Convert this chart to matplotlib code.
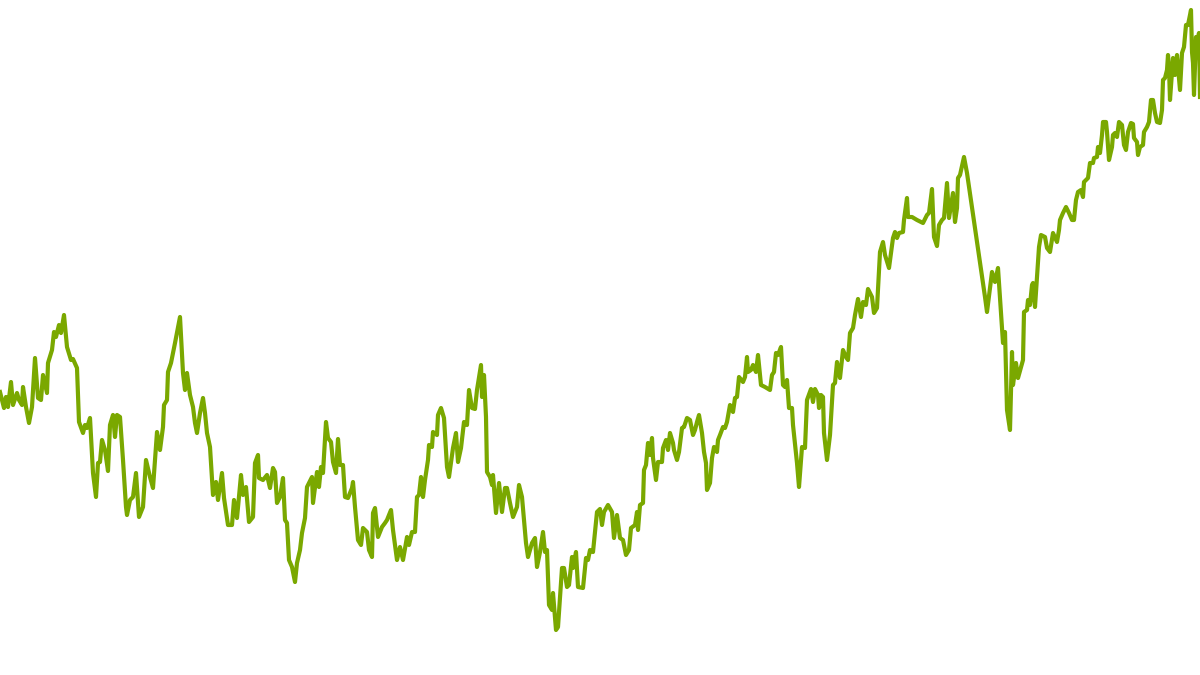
import matplotlib
matplotlib.use("Agg")
import matplotlib.pyplot as plt

# (dia, nivel), por tramos
tramo1 = [(0, 283), (4, 267), (6, 278), (8, 268), (11, 293), (13, 270), (17, 282), (19, 275),
          (22, 270), (23, 288), (26, 268), (29, 252), (32, 268), (35, 317), (38, 277), (41, 275),
          (43, 300), (47, 282), (48, 312), (52, 325), (54, 343), (56, 338), (59, 350), (61, 342),
          (64, 360), (67, 328), (71, 315), (73, 316), (77, 307), (79, 253), (83, 242), (85, 250),
          (87, 247), (90, 257), (93, 202), (96, 178), (98, 212), (100, 213), (102, 235), (105, 225),
          (108, 204), (110, 250), (113, 260), (115, 238), (117, 260), (120, 258), (123, 215),
          (126, 168), (127, 160), (130, 175), (133, 178), (136, 202), (139, 158), (143, 168),
          (146, 215), (150, 198), (153, 187), (157, 243), (160, 225), (163, 248), (164, 270),
          (167, 275), (168, 303), (171, 312), (173, 322), (175, 332), (180, 358), (183, 302),
          (185, 285), (187, 302), (190, 280), (193, 268), (195, 252), (197, 242)]
tramo2 = [(200, 262), (203, 277), (205, 262), (207, 242), (210, 228), (213, 180), (216, 193),
          (218, 175), (222, 202), (224, 177), (228, 150), (232, 150), (234, 175), (237, 157),
          (241, 200), (243, 180), (246, 188), (249, 153), (253, 158), (255, 212), (258, 220),
          (259, 197), (263, 195), (267, 200), (270, 187), (273, 207), (275, 203), (277, 172),
          (280, 178), (283, 197), (285, 155), (287, 152), (289, 115), (292, 108), (295, 93),
          (297, 112), (300, 125), (302, 142), (305, 157), (307, 188), (312, 198), (313, 172),
          (317, 203), (319, 188), (321, 208), (323, 202), (326, 253), (328, 237), (331, 233),
          (333, 213), (336, 202), (338, 236), (340, 210), (343, 210), (345, 178), (348, 177),
          (352, 187), (353, 193), (355, 168), (358, 135), (361, 130), (363, 147), (367, 143),
          (369, 125), (372, 118), (373, 162), (375, 167), (378, 138), (382, 148), (385, 152),
          (387, 155), (391, 165), (393, 145), (397, 115)]
tramo3 = [(400, 128), (403, 115), (407, 138), (409, 130), (412, 143), (415, 143), (417, 178),
          (419, 180), (421, 198), (423, 178), (425, 195), (428, 215), (429, 230), (432, 228),
          (433, 243), (437, 240), (438, 260), (441, 267), (444, 257), (447, 208), (449, 198),
          (453, 227), (456, 242), (458, 213), (461, 227), (464, 253), (467, 250), (469, 285),
          (472, 267), (475, 266), (477, 285), (481, 310), (482, 278), (484, 300), (486, 258),
          (487, 203), (490, 198), (492, 190), (493, 200), (496, 162), (499, 192), (502, 163),
          (505, 187), (507, 187), (510, 172), (513, 158), (517, 168), (519, 190), (522, 178),
          (526, 132), (528, 118), (532, 132), (535, 137), (537, 108), (540, 123), (543, 143),
          (545, 123), (547, 125), (549, 70), (552, 65), (553, 82), (556, 45), (558, 48),
          (562, 107), (564, 107), (567, 88), (569, 90), (572, 118), (573, 107), (576, 123),
          (578, 88), (583, 87), (586, 117), (588, 115), (590, 125), (593, 123), (597, 163)]
tramo4 = [(600, 166), (602, 150), (604, 163), (608, 170), (612, 163), (614, 137), (617, 160),
          (620, 137), (623, 135), (626, 120), (629, 125), (631, 147), (635, 150), (637, 163),
          (638, 145), (640, 170), (643, 172), (644, 205),
          (646, 210), (648, 232), (650, 220), (652, 237), (653, 217), (656, 195), (658, 213),
          (662, 213), (663, 227), (666, 235), (668, 225), (670, 242), (673, 232), (674, 225),
          (677, 215), (679, 223), (682, 247), (684, 248), (687, 257), (690, 255), (693, 240),
          (695, 245), (697, 253), (699, 260), (702, 242), (704, 223), (706, 212), (707, 185),
          (710, 192), (712, 217), (714, 228), (717, 223), (718, 235), (720, 240), (723, 248),
          (725, 247), (727, 253), (730, 270), (733, 263), (735, 277), (737, 278), (739, 298),
          (743, 293), (745, 298), (747, 318), (748, 303), (751, 305), (753, 310), (756, 303),
          (758, 320), (761, 290), (765, 288), (770, 285), (772, 300), (774, 303), (776, 322),
          (778, 320), (781, 328), (783, 290), (785, 288), (787, 295), (789, 267), (792, 267),
          (793, 250), (797, 212), (799, 188)]
tramo5 = [(802, 228), (805, 227), (806, 250), (807, 275), (811, 286), (813, 273), (815, 286),
          (818, 280), (819, 267), (821, 280), (823, 278), (824, 242), (827, 215), (830, 240),
          (833, 290), (835, 292), (837, 313), (840, 297), (843, 325), (846, 318), (848, 315),
          (850, 342), (853, 347), (855, 360), (858, 376), (861, 358), (863, 373), (866, 370),
          (868, 386), (872, 378), (874, 362), (877, 367), (880, 423), (883, 433), (885, 420),
          (889, 407), (893, 437), (895, 443), (897, 437), (899, 442), (903, 443), (904, 455),
          (907, 477), (908, 458), (912, 458), (917, 455), (923, 452), (927, 460), (929, 462),
          (932, 486), (934, 438), (937, 429), (939, 450), (942, 455), (944, 457), (947, 492),
          (949, 457), (953, 482), (955, 453), (957, 467), (958, 497), (960, 500), (964, 518),
          (967, 502), (985, 378), (987, 363), (992, 403), (995, 393), (998, 407)]
tramo6 = [(1002, 348), (1003, 332), (1005, 343), (1007, 265), (1010, 245), (1012, 323),
          (1013, 290), (1016, 312), (1018, 297), (1021, 308), (1023, 315),
          (1024, 363), (1027, 365), (1028, 375), (1030, 370), (1032, 390), (1033, 392),
          (1035, 368), (1037, 398), (1039, 428), (1041, 440), (1045, 438), (1047, 427),
          (1050, 423), (1053, 442), (1057, 433), (1059, 445), (1060, 455), (1063, 462),
          (1066, 468), (1069, 462), (1072, 455), (1074, 455), (1076, 475), (1078, 483),
          (1081, 485), (1083, 478), (1084, 493), (1086, 495), (1088, 497), (1090, 512),
          (1093, 512), (1094, 517), (1097, 518), (1098, 528), (1100, 522), (1102, 540),
          (1103, 553), (1106, 553), (1107, 543), (1109, 515), (1112, 528), (1113, 540),
          (1115, 542), (1117, 538), (1119, 553), (1122, 550), (1124, 530), (1126, 525),
          (1128, 543), (1131, 552), (1133, 551), (1134, 537), (1137, 533), (1138, 520),
          (1140, 528), (1143, 530), (1144, 543), (1147, 548), (1149, 553), (1151, 575),
          (1153, 575), (1155, 562), (1157, 553), (1160, 552), (1162, 565), (1163, 595),
          (1165, 597), (1167, 605), (1168, 620), (1169, 607), (1170, 575), (1173, 617),
          (1175, 600), (1177, 620), (1178, 608), (1180, 585), (1182, 622), (1184, 628),
          (1186, 650), (1188, 650), (1191, 665), (1192, 623), (1193, 612), (1194, 580),
          (1196, 638), (1197, 632), (1199, 642), (1200, 578)]

puntos = tramo1 + tramo2 + tramo3 + tramo4 + tramo5 + tramo6
dias = [p[0] for p in puntos]
nivel = [p[1] for p in puntos]

fig = plt.figure(figsize=(12, 6.75), dpi=100)
ax = fig.add_axes([0, 0, 1, 1])
ax.plot(dias, nivel, color='#7AA800', linewidth=3.0, solid_joinstyle='round')
ax.set_xlim(0, 1200)
ax.set_ylim(0, 675)
ax.axis('off')

fig.savefig("out.png", dpi=100)
